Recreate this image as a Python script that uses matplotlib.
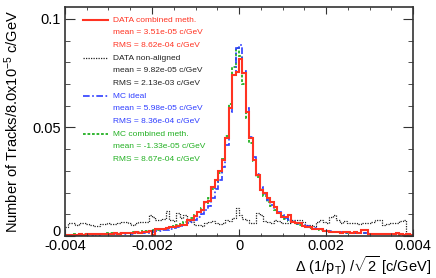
import numpy as np
import matplotlib
matplotlib.use("Agg")
import matplotlib.pyplot as plt
import matplotlib.transforms as mtransforms
from matplotlib.ticker import MultipleLocator

plt.rcParams['font.family'] = ['Liberation Sans', 'DejaVu Sans']
plt.rcParams['mathtext.fontset'] = 'custom'
plt.rcParams['mathtext.rm'] = 'Liberation Sans'
plt.rcParams['mathtext.it'] = 'Liberation Sans'
plt.rcParams['axes.unicode_minus'] = False

# histogram binning: 100 bins of 8.0e-5 c/GeV in [-0.004, 0.004]
x_min = -0.004
bin_width = 8.0e-5
n_bins = 100

# DATA combined method (red, solid)
data_comb = [
    0.0005, 0.0004, 0.0006, 0.0005, 0.0007, 0.0006, 0.0008, 0.0007, 0.0009, 0.0008,
    0.0010, 0.0009, 0.0011, 0.0010, 0.0012, 0.0011, 0.0013, 0.0012, 0.0014, 0.0015,
    0.0017, 0.0016, 0.0019, 0.0020, 0.0022, 0.0006, 0.0032, 0.0034, 0.0033, 0.0036,
    0.0042, 0.0043, 0.0048, 0.0050, 0.0052, 0.0072, 0.0075, 0.0090, 0.0110, 0.0120,
    0.0158, 0.0160, 0.0227, 0.0258, 0.0300, 0.0350, 0.0450, 0.0590, 0.0740, 0.0756,
    0.0816, 0.0750, 0.0570, 0.0450, 0.0350, 0.0280, 0.0210, 0.0198, 0.0175, 0.0158,
    0.0135, 0.0106, 0.0089, 0.0089, 0.0097, 0.0066, 0.0062, 0.0058, 0.0046, 0.0043,
    0.0040, 0.0034, 0.0032, 0.0030, 0.0024, 0.0023, 0.0020, 0.0018, 0.0017, 0.0016,
    0.0018, 0.0017, 0.0015, 0.0017, 0.0016, 0.0028, 0.0027, 0.0009, 0.0008, 0.0009,
    0.0008, 0.0007, 0.0008, 0.0007, 0.0008, 0.0015, 0.0007, 0.0006, 0.0007, 0.0006,
]

# DATA non-aligned (black, dotted)
data_nonal = [
    0.0040, 0.0061, 0.0058, 0.0052, 0.0058, 0.0060, 0.0055, 0.0050, 0.0047, 0.0046,
    0.0053, 0.0055, 0.0060, 0.0056, 0.0054, 0.0058, 0.0066, 0.0066, 0.0058, 0.0052,
    0.0058, 0.0064, 0.0063, 0.0065, 0.0097, 0.0089, 0.0074, 0.0072, 0.0080, 0.0115,
    0.0075, 0.0068, 0.0105, 0.0085, 0.0097, 0.0070, 0.0066, 0.0052, 0.0050, 0.0048,
    0.0062, 0.0066, 0.0068, 0.0058, 0.0056, 0.0060, 0.0072, 0.0070, 0.0085, 0.0129,
    0.0097, 0.0080, 0.0074, 0.0060, 0.0058, 0.0108, 0.0095, 0.0070, 0.0066, 0.0060,
    0.0074, 0.0070, 0.0062, 0.0058, 0.0060, 0.0074, 0.0076, 0.0072, 0.0066, 0.0052,
    0.0050, 0.0048, 0.0066, 0.0072, 0.0066, 0.0058, 0.0088, 0.0097, 0.0074, 0.0060,
    0.0070, 0.0062, 0.0058, 0.0058, 0.0056, 0.0058, 0.0062, 0.0060, 0.0064, 0.0072,
    0.0074, 0.0052, 0.0056, 0.0058, 0.0058, 0.0062, 0.0070, 0.0076, 0.0005, 0.0003,
]

# MC ideal (blue, dash-dot)
mc_ideal = [
    0.0003, 0.0004, 0.0003, 0.0005, 0.0004, 0.0005, 0.0006, 0.0005, 0.0007, 0.0006,
    0.0007, 0.0008, 0.0007, 0.0009, 0.0008, 0.0010, 0.0009, 0.0011, 0.0012, 0.0011,
    0.0013, 0.0014, 0.0015, 0.0016, 0.0018, 0.0019, 0.0021, 0.0024, 0.0026, 0.0029,
    0.0032, 0.0036, 0.0040, 0.0045, 0.0051, 0.0058, 0.0066, 0.0076, 0.0088, 0.0100,
    0.0118, 0.0140, 0.0175, 0.0215, 0.0260, 0.0320, 0.0420, 0.0570, 0.0740, 0.0866,
    0.0880, 0.0760, 0.0590, 0.0455, 0.0365, 0.0285, 0.0225, 0.0195, 0.0165, 0.0145,
    0.0125, 0.0110, 0.0095, 0.0085, 0.0075, 0.0068, 0.0062, 0.0056, 0.0050, 0.0046,
    0.0041, 0.0037, 0.0033, 0.0030, 0.0027, 0.0024, 0.0022, 0.0020, 0.0018, 0.0017,
    0.0016, 0.0015, 0.0015, 0.0014, 0.0013, 0.0013, 0.0012, 0.0011, 0.0011, 0.0010,
    0.0010, 0.0009, 0.0009, 0.0008, 0.0008, 0.0007, 0.0007, 0.0006, 0.0006, 0.0005,
]

# MC combined method (green, dashed)
mc_comb = [
    0.0006, 0.0005, 0.0007, 0.0006, 0.0008, 0.0007, 0.0009, 0.0008, 0.0010, 0.0009,
    0.0011, 0.0010, 0.0012, 0.0013, 0.0012, 0.0014, 0.0015, 0.0014, 0.0016, 0.0017,
    0.0018, 0.0019, 0.0021, 0.0022, 0.0024, 0.0026, 0.0029, 0.0031, 0.0034, 0.0037,
    0.0041, 0.0045, 0.0050, 0.0056, 0.0063, 0.0072, 0.0083, 0.0096, 0.0112, 0.0130,
    0.0150, 0.0175, 0.0215, 0.0250, 0.0290, 0.0355, 0.0460, 0.0610, 0.0780, 0.0865,
    0.0830, 0.0700, 0.0545, 0.0430, 0.0345, 0.0270, 0.0215, 0.0185, 0.0158, 0.0138,
    0.0120, 0.0104, 0.0091, 0.0080, 0.0071, 0.0063, 0.0057, 0.0051, 0.0046, 0.0041,
    0.0037, 0.0033, 0.0030, 0.0027, 0.0024, 0.0022, 0.0020, 0.0018, 0.0017, 0.0016,
    0.0015, 0.0015, 0.0014, 0.0013, 0.0013, 0.0012, 0.0012, 0.0011, 0.0010, 0.0010,
    0.0009, 0.0009, 0.0008, 0.0008, 0.0007, 0.0007, 0.0006, 0.0006, 0.0005, 0.0005,
]

labels = ["DATA combined meth.", "DATA non-aligned", "MC ideal", "MC combined meth."]
means = ["3.51e-05", "9.82e-05", "5.98e-05", "-1.33e-05"]
rmss = ["8.62e-04", "2.13e-03", "8.36e-04", "8.67e-04"]

xtick_vals = [-0.004, -0.002, 0, 0.002, 0.004]
xtick_labels = ["-0.004", "-0.002", "0", "0.002", "0.004"]
ytick_vals = [0, 0.05, 0.1]
ytick_labels = ["0", "0.05", "0.1"]

red = '#ff3322'
blue = '#2e3dff'
green = '#22b022'
colors = [red, '#222222', blue, green]
styles = [dict(ls='-', lw=1.5),
          dict(ls=(0, (1, 1)), lw=0.9),
          dict(ls=(0, (4, 1.5, 1, 1.5)), lw=1.2),
          dict(ls=(0, (1.5, 1)), lw=1.3)]
series = [data_comb, data_nonal, mc_ideal, mc_comb]

W, H = 436, 278
fig = plt.figure(figsize=(W / 100, H / 100), dpi=100)
ax = fig.add_axes([65 / W, 1 - 236 / H, 348 / W, 229 / H])

edges = x_min + bin_width * np.arange(n_bins + 1)
for idx in [1, 3, 2, 0]:
    ax.stairs(series[idx], edges, baseline=None, color=colors[idx], **styles[idx])

ax.set_xlim(-0.004, 0.004)
ax.set_ylim(0, 0.1055)
ax.set_xticks(xtick_vals)
ax.set_xticklabels(xtick_labels)
ax.set_yticks(ytick_vals)
ax.set_yticklabels(ytick_labels)
ax.xaxis.set_minor_locator(MultipleLocator(0.0005))
ax.yaxis.set_minor_locator(MultipleLocator(0.01))
ax.tick_params(which='both', direction='in', top=True, right=True,
               color='#333333', labelsize=10.5)
ax.tick_params(axis='x', which='major', length=5, pad=2)
ax.tick_params(axis='x', which='minor', length=2.5)
ax.tick_params(axis='y', which='major', length=7, pad=3)
ax.tick_params(axis='y', which='minor', length=3.5)
for s in ax.spines.values():
    s.set_color('#333333')
    s.set_linewidth(1.2)

# lift the y "0" label a little, as in the original
ylab0 = ax.get_yticklabels()[0]
ylab0.set_transform(ylab0.get_transform() +
                    mtransforms.ScaledTranslation(0, 5 / 100, fig.dpi_scale_trans))

fig.text(12 / W, 1 - 10 / H, r"Number of Tracks/8.0x10$^{-5}$ c/GeV",
         rotation=90, ha='center', va='top', fontsize=10.5)
fig.text(431 / W, 1 - 266 / H, r"$\Delta$ (1/p$_{\rm T}$) /$\sqrt{2}$ [c/GeV]",
         ha='right', va='center', fontsize=10.5)

# legend block
y0 = 20
dy = 12.7
for k in range(4):
    yy = 1 - (y0 + 3 * k * dy) / H
    fig.add_artist(plt.Line2D([83 / W, 108 / W], [yy, yy], color=colors[k],
                              transform=fig.transFigure, **styles[k]))
    fig.text(113 / W, yy, labels[k], color=colors[k], fontsize=6, va='center')
    fig.text(113 / W, 1 - (y0 + (3 * k + 1) * dy) / H,
             "mean = " + means[k] + " c/GeV", color=colors[k], fontsize=6, va='center')
    fig.text(113 / W, 1 - (y0 + (3 * k + 2) * dy) / H,
             "RMS = " + rmss[k] + " c/GeV", color=colors[k], fontsize=6, va='center')

fig.savefig("out.png", dpi=100)
